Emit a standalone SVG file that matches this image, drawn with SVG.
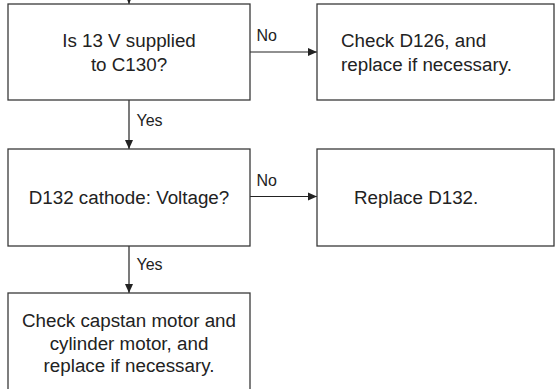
<svg xmlns="http://www.w3.org/2000/svg" width="555" height="389" viewBox="0 0 555 389">
<style>
.box{fill:#fff;stroke:#3a3a3a;stroke-width:1.3}
.t{font-family:"Liberation Sans",Arial,sans-serif;font-size:18.8px;fill:#222}
.c{text-anchor:middle}
.l{font-family:"Liberation Sans",Arial,sans-serif;font-size:16px;fill:#222}
.e{stroke:#222;stroke-width:1.2;fill:none;marker-end:url(#ah)}
</style>
<defs>
<marker id="ah" markerUnits="userSpaceOnUse" markerWidth="10" markerHeight="10" refX="9" refY="4.5" orient="auto">
<path d="M0,0.5 L9,4.5 L0,8.5 Z" fill="#222"/>
</marker>
</defs>
<rect width="555" height="389" fill="#fff"/>
<g id="connectors">
<line class="e" x1="129" y1="-10" x2="129" y2="4"/>
<line class="e" x1="250" y1="52" x2="317" y2="52"/>
<line class="e" x1="129" y1="100" x2="129" y2="149"/>
<line class="e" x1="250" y1="196.5" x2="317" y2="196.5"/>
<line class="e" x1="129" y1="246" x2="129" y2="293"/>
<text class="l" x="256.5" y="40.5">No</text>
<text class="l" x="136.5" y="126">Yes</text>
<text class="l" x="256.5" y="186">No</text>
<text class="l" x="136.5" y="270">Yes</text>
</g>
<g id="n1">
<rect class="box" x="8" y="4" width="242" height="96"/>
<text class="t c" x="129" y="47">Is 13 V supplied</text>
<text class="t c" x="129" y="70.5">to C130?</text>
</g>
<g id="n2">
<rect class="box" x="317" y="4" width="237" height="96"/>
<text class="t" x="341" y="47">Check D126, and</text>
<text class="t" x="341" y="70.5">replace if necessary.</text>
</g>
<g id="n3">
<rect class="box" x="8" y="149" width="242" height="97"/>
<text class="t c" x="129" y="203.5">D132 cathode: Voltage?</text>
</g>
<g id="n4">
<rect class="box" x="317" y="149" width="237" height="97"/>
<text class="t" x="354" y="203.5">Replace D132.</text>
</g>
<g id="n5">
<rect class="box" x="8" y="293" width="242" height="110"/>
<text class="t c" x="129" y="327">Check capstan motor and</text>
<text class="t c" x="129" y="349.5">cylinder motor, and</text>
<text class="t c" x="129" y="372">replace if necessary.</text>
</g>
</svg>
